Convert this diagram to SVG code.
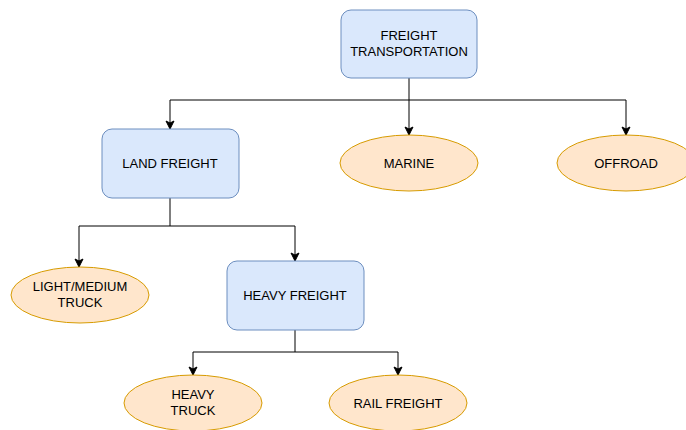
<svg xmlns="http://www.w3.org/2000/svg" width="686" height="430" viewBox="0 0 686 430">
<style>
.box{fill:#dae8fc;stroke:#6c8ebf;stroke-width:1}
.ell{fill:#ffe6cc;stroke:#d79b00;stroke-width:1}
.lbl{font-family:"Liberation Sans",Arial,sans-serif;font-size:13px;fill:#000;text-anchor:middle}
.edge{fill:none;stroke:#000;stroke-width:1}
</style>
<defs>
<marker id="arr" markerWidth="10" markerHeight="10" refX="9" refY="5" orient="auto" markerUnits="userSpaceOnUse">
<path d="M1,1 L9,5 L1,9 L3,5 Z" fill="#000" stroke="#000" stroke-width="1"/>
</marker>
</defs>
<rect width="686" height="430" fill="#fff"/>
<g id="connectors">
<path class="edge" d="M409,78 V100 M170,100 H626"/>
<path class="edge" d="M170,100 V129" marker-end="url(#arr)"/>
<path class="edge" d="M409,100 V135" marker-end="url(#arr)"/>
<path class="edge" d="M626,100 V135" marker-end="url(#arr)"/>
<path class="edge" d="M170,198 V226 M79,226 H295"/>
<path class="edge" d="M79,226 V267" marker-end="url(#arr)"/>
<path class="edge" d="M295,226 V261" marker-end="url(#arr)"/>
<path class="edge" d="M295,330 V352 M193,352 H398"/>
<path class="edge" d="M193,352 V375" marker-end="url(#arr)"/>
<path class="edge" d="M398,352 V375" marker-end="url(#arr)"/>
</g>
<g id="freight-transportation">
<rect class="box" x="341" y="10" width="136" height="68" rx="10"/>
<text class="lbl" x="409" y="40">FREIGHT</text>
<text class="lbl" x="409" y="56">TRANSPORTATION</text>
</g>
<g id="land-freight">
<rect class="box" x="102" y="129" width="137" height="69" rx="10"/>
<text class="lbl" x="170" y="168">LAND FREIGHT</text>
</g>
<g id="marine">
<ellipse class="ell" cx="409" cy="163" rx="69" ry="28"/>
<text class="lbl" x="409" y="168">MARINE</text>
</g>
<g id="offroad">
<ellipse class="ell" cx="626" cy="163" rx="69" ry="28"/>
<text class="lbl" x="626" y="168">OFFROAD</text>
</g>
<g id="light-medium-truck">
<ellipse class="ell" cx="80" cy="295" rx="69" ry="28"/>
<text class="lbl" x="80" y="291">LIGHT/MEDIUM</text>
<text class="lbl" x="80" y="307">TRUCK</text>
</g>
<g id="heavy-freight">
<rect class="box" x="227" y="261" width="137" height="69" rx="10"/>
<text class="lbl" x="295" y="300">HEAVY FREIGHT</text>
</g>
<g id="heavy-truck">
<ellipse class="ell" cx="193" cy="403" rx="69" ry="28"/>
<text class="lbl" x="193" y="399">HEAVY</text>
<text class="lbl" x="193" y="415">TRUCK</text>
</g>
<g id="rail-freight">
<ellipse class="ell" cx="398" cy="403" rx="69" ry="28"/>
<text class="lbl" x="398" y="408">RAIL FREIGHT</text>
</g>
</svg>
